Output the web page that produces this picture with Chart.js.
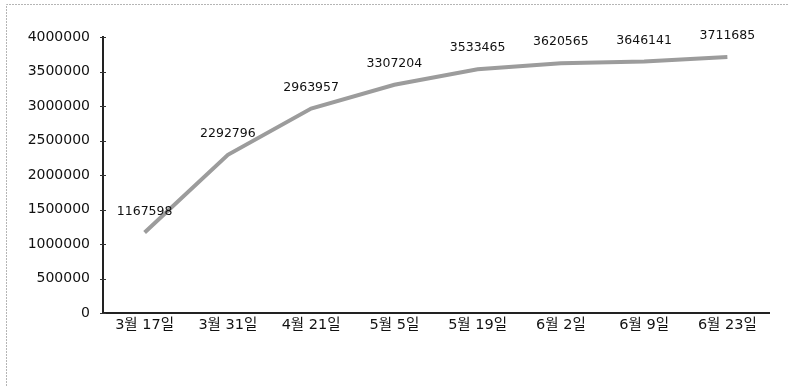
<!DOCTYPE html>
<html>
<head>
<meta charset="utf-8">
<script src="https://cdn.jsdelivr.net/npm/chart.js@4"></script>
<style>
  html, body { margin: 0; padding: 0; background: #fff; }
  #wrap { width: 789px; height: 386px; position: relative; }
</style>
</head>
<body>
<div id="wrap"><canvas id="c" width="789" height="386"></canvas></div>
<script>
const categories = ['3월 17일', '3월 31일', '4월 21일', '5월 5일', '5월 19일', '6월 2일', '6월 9일', '6월 23일'];
const totals = [1167598, 2292796, 2963957, 3307204, 3533465, 3620565, 3646141, 3711685];
const yTicks = [0, 500000, 1000000, 1500000, 2000000, 2500000, 3000000, 3500000, 4000000];

const FONT = '"DejaVu Sans", "Noto Sans CJK KR", sans-serif';

// Dotted frame around the figure
const framePlugin = {
  id: 'frame',
  beforeDraw(chart) {
    const ctx = chart.ctx;
    ctx.save();
    ctx.strokeStyle = '#b5b5b5';
    ctx.lineWidth = 1;
    ctx.setLineDash([2, 1]);
    ctx.beginPath();
    ctx.moveTo(6.5, 386);
    ctx.lineTo(6.5, 4.5);
    ctx.lineTo(789, 4.5);
    ctx.stroke();
    ctx.restore();
  }
};

// Small cross ticks on the value axis
const crossTicks = {
  id: 'crossTicks',
  afterDraw(chart) {
    const y = chart.scales.y;
    const ctx = chart.ctx;
    ctx.save();
    ctx.strokeStyle = '#333';
    ctx.lineWidth = 1;
    y.ticks.forEach(t => {
      const py = Math.round(y.getPixelForValue(t.value)) + 0.5;
      ctx.beginPath();
      ctx.moveTo(y.right - 3, py);
      ctx.lineTo(y.right + 3, py);
      ctx.stroke();
    });
    ctx.restore();
  }
};

// Value labels above each point
const valueLabels = {
  id: 'valueLabels',
  afterDatasetsDraw(chart) {
    const ctx = chart.ctx;
    const meta = chart.getDatasetMeta(0);
    ctx.save();
    ctx.font = '12.5px ' + FONT;
    ctx.fillStyle = '#111';
    ctx.textAlign = 'center';
    ctx.textBaseline = 'middle';
    meta.data.forEach((pt, i) => {
      ctx.fillText(String(chart.data.datasets[0].data[i]), pt.x, pt.y - 21);
    });
    ctx.restore();
  }
};

new Chart(document.getElementById('c'), {
  type: 'line',
  data: {
    labels: categories,
    datasets: [{
      data: totals,
      borderColor: '#9c9c9c',
      borderWidth: 4,
      pointRadius: 0,
      tension: 0,
      fill: false
    }]
  },
  options: {
    responsive: false,
    animation: false,
    events: [],
    layout: { padding: { top: 37, right: 20, bottom: 0, left: 0 } },
    plugins: { legend: { display: false }, tooltip: { enabled: false } },
    scales: {
      x: {
        offset: true,
        grid: { display: false, drawTicks: false },
        border: { display: true, color: '#222', width: 2 },
        ticks: {
          padding: 4,
          color: '#111',
          font: { family: FONT, size: 14.5 },
          maxRotation: 0,
          autoSkip: false
        },
        afterFit(s) { s.height = 73; }
      },
      y: {
        min: 0,
        max: 4000000,
        afterBuildTicks(s) { s.ticks = yTicks.map(v => ({ value: v })); },
        grid: { display: false, drawTicks: false },
        border: { display: true, color: '#222', width: 2 },
        ticks: {
          padding: 13,
          color: '#111',
          font: { family: FONT, size: 14 },
          callback: v => String(v)
        },
        afterFit(s) { s.width = 103; }
      }
    }
  },
  plugins: [framePlugin, crossTicks, valueLabels]
});
</script>
</body>
</html>
